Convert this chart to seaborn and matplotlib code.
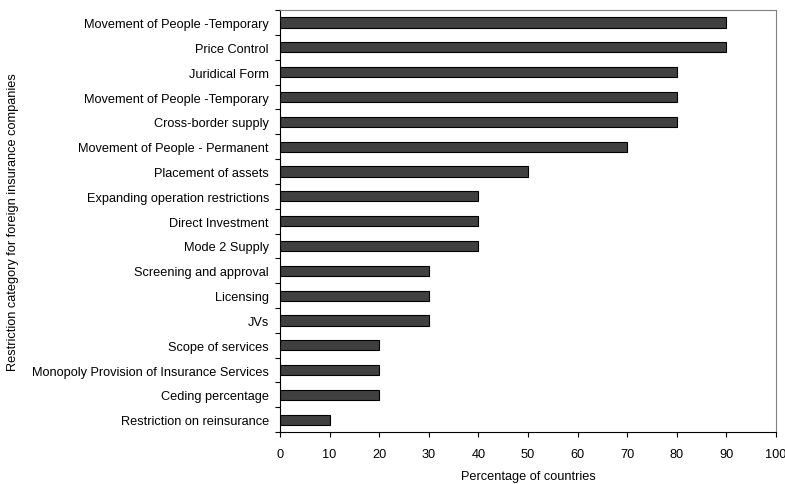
import matplotlib
matplotlib.use("Agg")
import matplotlib.pyplot as plt
import seaborn as sns
import pandas as pd
import numpy as np

categories = [
    "Movement of People -Temporary",
    "Price Control",
    "Juridical Form",
    "Movement of People -Temporary ",
    "Cross-border supply",
    "Movement of People - Permanent",
    "Placement of assets",
    "Expanding operation restrictions",
    "Direct Investment",
    "Mode 2 Supply",
    "Screening and approval",
    "Licensing",
    "JVs",
    "Scope of services",
    "Monopoly Provision of Insurance Services",
    "Ceding percentage",
    "Restriction on reinsurance",
]
values = [90, 90, 80, 80, 80, 70, 50, 40, 40, 40, 30, 30, 30, 20, 20, 20, 10]
x_ticks = [0, 10, 20, 30, 40, 50, 60, 70, 80, 90, 100]

sns.set_theme(style="white")
plt.rcParams['font.family'] = ['Liberation Sans', 'DejaVu Sans']

FS = 9.2
df = pd.DataFrame({"cat": categories, "val": values})

fig = plt.figure(figsize=(7.85, 4.85), dpi=100)
ax = fig.add_axes([0.3567, 0.107, 0.6318, 0.870])

sns.barplot(data=df, x="val", y="cat", orient="h", color="#404040",
            edgecolor="black", linewidth=0.8, width=0.41, saturation=1, ax=ax)

ax.set_xlim(0, 100)
ax.set_ylim(len(categories) - 0.5, -0.5)
ax.set_xticks(x_ticks)
ax.set_xticklabels([str(t) for t in x_ticks], fontsize=FS, color="black")
ax.set_yticks(range(len(categories)))
ax.set_yticklabels([c.strip() for c in categories], fontsize=FS, color="black")
ax.tick_params(axis="y", which="major", length=0, pad=8)
ax.set_yticks(np.arange(-0.5, len(categories), 1), minor=True)
ax.tick_params(axis="y", which="minor", length=3.5, width=0.8, color="black", direction="out", left=True)
ax.tick_params(axis="x", which="major", length=3.5, width=0.8, color="black", direction="out", bottom=True, pad=8)

for s in ["left", "bottom"]:
    ax.spines[s].set_color("black")
    ax.spines[s].set_linewidth(0.8)
for s in ["top", "right"]:
    ax.spines[s].set_color("#808080")
    ax.spines[s].set_linewidth(0.8)

ax.set_xlabel("Percentage of countries", fontsize=FS, color="black", labelpad=7.5)
ax.set_ylabel("Restriction category for foreign insurance companies", fontsize=FS, color="black")
ax.yaxis.set_label_coords(-0.527, 0.5)

fig.savefig("out.png", dpi=100)
